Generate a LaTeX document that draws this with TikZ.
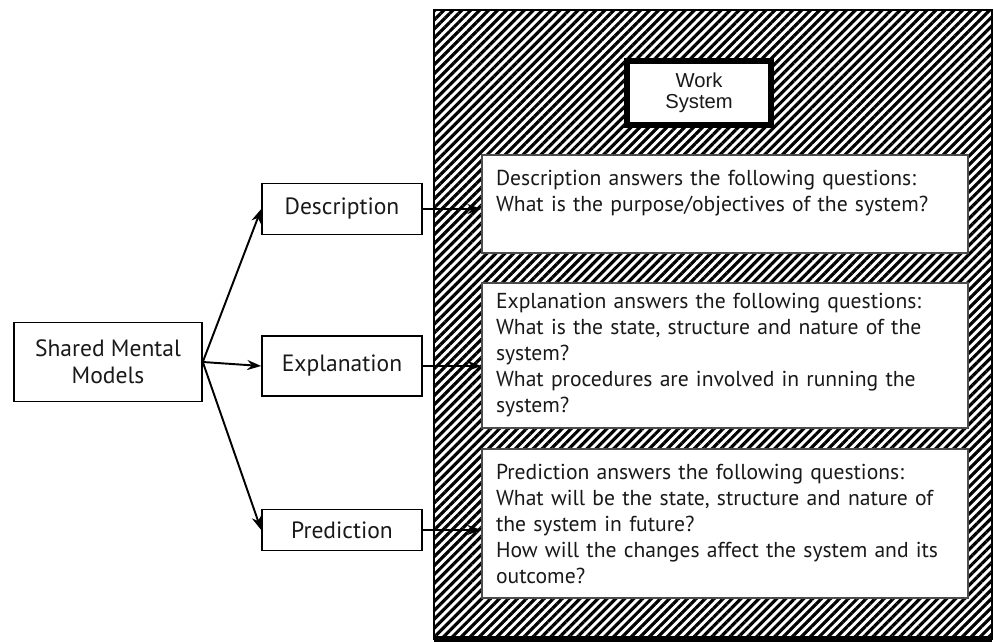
\documentclass[tikz,border=0pt]{standalone}
\usepackage{fontspec}
\setmainfont{PT Sans}
\newfontfamily\wsfont{Liberation Sans}
\usepackage{tikz}
\usetikzlibrary{arrows.meta,patterns.meta}

\begin{document}
\begin{tikzpicture}[x=0.02cm,y=-0.02cm,font=\fontsize{12.3}{14.8}\selectfont,>={Stealth[length=2.8mm,width=2mm]},
  lbox/.style={draw,line width=0.9pt,fill=white,minimum width=3.2cm,text=black!90,
    font=\fontsize{13.4}{15.5}\selectfont},
  ans/.style={draw=black!70,line width=0.8pt,fill=white,minimum width=9.72cm,text width=9.16cm,
    inner xsep=0.28cm,align=left,text=black!90},
  link/.style={->,line width=1.1pt}]
\useasboundingbox (0,0) rectangle (994,642);
% hatched work system area
\fill[pattern={Lines[angle=45,distance=3.6pt,line width=1.8pt]}] (434,10) rectangle (992,639);
\draw[line width=0.9pt] (434,10) rectangle (992,639);
\draw[line width=3pt] (434,639) -- (992,639);
\node[draw,line width=0.12cm,fill=white,minimum width=2.88cm,minimum height=1.28cm,
  align=center,font=\wsfont\fontsize{11.5}{12}\selectfont,text=black!90] (ws) at (699,93) {Work\\System};
% answer boxes
\node[ans,minimum height=1.96cm] (descans) at (725,204)
  {Description answers the following questions:\\What is the purpose/objectives of the system?\\~};
\node[ans,minimum height=2.9cm] (explans) at (725,355.5)
  {Explanation answers the following questions:\\What is the state, structure and nature of the\\system?\\What procedures are involved in running the\\system?};
\node[ans,minimum height=2.98cm] (predans) at (725,523.5)
  {Prediction answers the following questions:\\What will be the state, structure and nature of\\the system in future?\\How will the changes affect the system and its\\outcome?};
% left side
\node[lbox,minimum width=3.76cm,minimum height=1.58cm,align=center] (smm) at (108,362) {Shared Mental\\Models};
\node[lbox,minimum height=1.02cm] (desc) at (342,209) {Description};
\node[lbox,minimum height=1.2cm] (expl) at (342,366) {Explanation};
\node[lbox,minimum height=0.82cm] (pred) at (342,530) {Prediction};
\draw[link] (smm.east) -- (desc.west);
\draw[link] (smm.east) -- (expl.west);
\draw[link] (smm.east) -- (pred.west);
\draw[link] (desc.east) -- (desc.east -| descans.west);
\draw[link] (expl.east) -- (expl.east -| explans.west);
\draw[link] (pred.east) -- (pred.east -| predans.west);
\end{tikzpicture}
\end{document}
